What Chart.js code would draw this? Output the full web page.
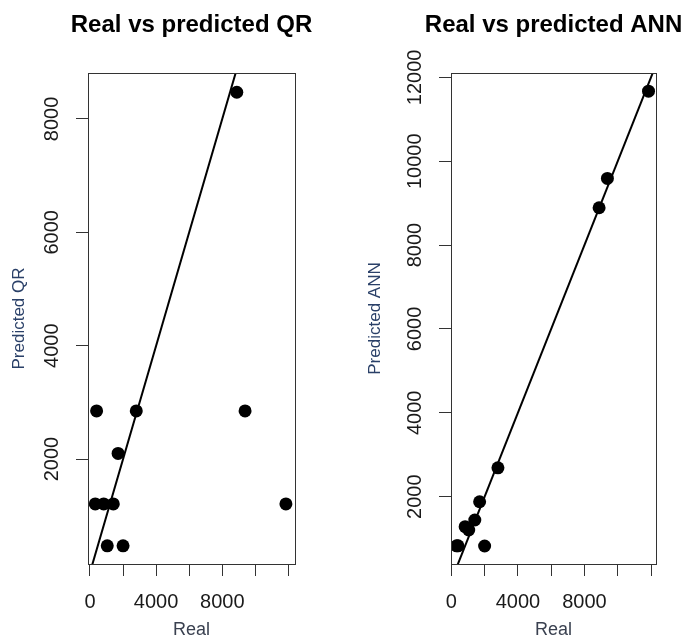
<!DOCTYPE html>
<html>
<head>
<meta charset="utf-8">
<script src="https://cdn.jsdelivr.net/npm/chart.js@4.4.1/dist/chart.umd.min.js"></script>
<style>
    html, body { margin: 0; padding: 0; background: #fff; }
    #wrap { position: relative; width: 684px; height: 643px; }
    canvas { position: absolute; top: 0; }
    #chart-qr { left: 0; }
    #chart-ann { left: 342px; }
</style>
</head>
<body>
<div id="wrap">
    <canvas id="chart-qr" width="342" height="643"></canvas>
    <canvas id="chart-ann" width="342" height="643"></canvas>
</div>
<script>
// values
const realValues   = [400, 2800, 9380, 1700, 320, 830, 1410, 11850, 1045, 2000, 8880];
const qrPredicted  = [2850, 2850, 2850, 2100, 1210, 1210, 1210, 1210, 470, 470, 8470];
const annPredicted = [830, 2690, 9590, 1880, 830, 1285, 1445, 11670, 1206, 825, 8890];

const xTickValues = [0, 2000, 4000, 6000, 8000, 10000, 12000];
const xTickLabels = ['0', '', '4000', '', '8000', '', ''];
const qrYTicks  = [2000, 4000, 6000, 8000];
const annYTicks = [2000, 4000, 6000, 8000, 10000, 12000];
const identityLine = [0, 13000];   // y = x

const FONT = "'Liberation Sans', Arial, sans-serif";

const rStyle = {
    id: 'rStyle',
    afterDraw(chart, args, opts) {
        const ctx = chart.ctx;
        const area = chart.chartArea;
        const yScale = chart.scales.y;
        ctx.save();
        // full box round the plot region
        ctx.strokeStyle = '#333';
        ctx.lineWidth = 1;
        ctx.strokeRect(Math.round(area.left) + 0.5, Math.round(area.top) + 0.5,
            Math.round(area.right - area.left), Math.round(area.bottom - area.top));

        // rotated y tick labels, like R's las = 0
        ctx.fillStyle = '#1a1a1a';
        ctx.font = "20px " + FONT;
        ctx.textAlign = 'center';
        ctx.textBaseline = 'middle';
        yScale.ticks.forEach(t => {
            const y = yScale.getPixelForValue(t.value);
            ctx.save();
            ctx.translate(area.left - 36, y);
            ctx.rotate(-Math.PI / 2);
            ctx.fillText(String(t.value), 0, 0);
            ctx.restore();
        });

        // main title
        ctx.fillStyle = '#000';
        ctx.font = "bold 24px " + FONT;
        ctx.textBaseline = 'alphabetic';
        ctx.fillText(opts.title, (area.left + area.right) / 2, 32);
        ctx.restore();
    }
};

function makeChart(id, predicted, cfg) {
    const points = realValues.map((x, i) => ({ x: x, y: predicted[i] }));
    const line = identityLine.map(v => ({ x: v, y: v }));

    return new Chart(document.getElementById(id), {
        type: 'scatter',
        data: {
            datasets: [
                {
                    type: 'line',
                    data: line,
                    borderColor: '#000',
                    borderWidth: 2,
                    pointRadius: 0,
                    fill: false
                },
                {
                    data: points,
                    backgroundColor: '#000',
                    borderWidth: 0,
                    pointRadius: 6.5
                }
            ]
        },
        options: {
            responsive: false,
            animation: false,
            events: [],
            layout: { padding: { top: 73, right: cfg.padRight, left: 0, bottom: 0 } },
            plugins: {
                legend: { display: false },
                tooltip: { enabled: false },
                rStyle: { title: cfg.title }
            },
            scales: {
                x: {
                    type: 'linear',
                    min: cfg.xMin,
                    max: cfg.xMax,
                    afterBuildTicks: s => { s.ticks = xTickValues.map(v => ({ value: v })); },
                    afterFit: s => { s.height = 79; },
                    border: { display: true, color: '#333' },
                    grid: { drawOnChartArea: false, drawTicks: true, tickLength: 12, color: '#333' },
                    ticks: {
                        autoSkip: false,
                        maxRotation: 0,
                        padding: 14,
                        color: '#1a1a1a',
                        font: { family: FONT, size: 20 },
                        callback: v => xTickLabels[xTickValues.indexOf(v)] ?? ''
                    },
                    title: {
                        display: true,
                        text: 'Real',
                        color: '#3a4150',
                        font: { family: FONT, size: 18 },
                        padding: { top: 0, bottom: 2 }
                    }
                },
                y: {
                    type: 'linear',
                    min: cfg.yMin,
                    max: cfg.yMax,
                    afterBuildTicks: s => { s.ticks = cfg.yTicks.map(v => ({ value: v })); },
                    afterFit: s => { s.width = cfg.yWidth; },
                    border: { display: true, color: '#333' },
                    grid: { drawOnChartArea: false, drawTicks: true, tickLength: 12, color: '#333' },
                    ticks: { display: false },
                    title: {
                        display: true,
                        text: cfg.yTitle,
                        color: '#2a4068',
                        font: { family: FONT, size: 17 },
                        padding: { top: cfg.yTitlePad, bottom: 0 }
                    }
                }
            }
        },
        plugins: [rStyle]
    });
}

makeChart('chart-qr', qrPredicted, {
    title: 'Real vs predicted QR',
    yTitle: 'Predicted QR',
    xMin: -120, xMax: 12400,
    yMin: 150, yMax: 8810,
    yTicks: qrYTicks,
    yWidth: 88,
    yTitlePad: 9,
    padRight: 47
});

makeChart('chart-ann', annPredicted, {
    title: 'Real vs predicted ANN',
    yTitle: 'Predicted ANN',
    xMin: -20, xMax: 12300,
    yMin: 396, yMax: 12103,
    yTicks: annYTicks,
    yWidth: 109,
    yTitlePad: 23,
    padRight: 28
});
</script>
</body>
</html>
